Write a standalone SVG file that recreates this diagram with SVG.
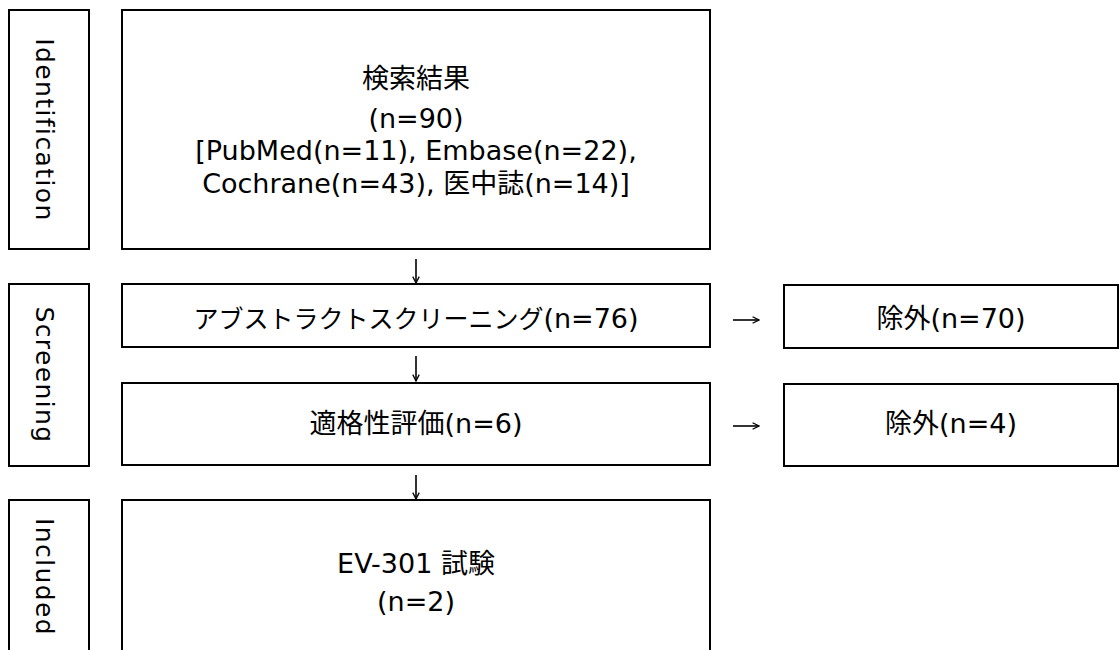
<svg xmlns="http://www.w3.org/2000/svg" width="1119" height="650" viewBox="0 0 1119 650">
  <style>
    .box { fill: #ffffff; stroke: #000000; stroke-width: 2; }
    .t { font-family: "DejaVu Sans", "Noto Sans CJK JP", sans-serif; font-size: 27px; fill: #000000; text-anchor: middle; }
    .k { font-size: 25px; }
    .lbl { font-family: "DejaVu Sans", "Noto Sans CJK JP", sans-serif; font-size: 25px; fill: #000000; text-anchor: middle; letter-spacing: 1.4px; }
    .arr { fill: none; stroke: #000000; stroke-width: 1.6; }
  </style>
  <defs>
    <marker id="ah" viewBox="0 0 10 10" refX="9" refY="5" markerWidth="8" markerHeight="8" orient="auto" markerUnits="userSpaceOnUse">
      <path d="M1,1 L9,5 L1,9" fill="none" stroke="#000" stroke-width="1.6"/>
    </marker>
  </defs>
  <rect x="0" y="0" width="1119" height="650" fill="#ffffff"/>

  <g id="label-identification">
    <rect class="box" x="9" y="10" width="80" height="239"/>
    <text class="lbl" transform="translate(36,130) rotate(90)">Identification</text>
  </g>
  <g id="label-screening">
    <rect class="box" x="9" y="284" width="80" height="182"/>
    <text class="lbl" transform="translate(36,375) rotate(90)">Screening</text>
  </g>
  <g id="label-included">
    <rect class="box" x="9" y="500" width="80" height="160"/>
    <text class="lbl" transform="translate(36,577) rotate(90)">Included</text>
  </g>

  <g id="node-search">
    <rect class="box" x="122" y="10" width="588" height="239"/>
    <text class="t" x="416" y="88">検索結果</text>
    <text class="t" x="416" y="128">(n=90)</text>
    <text class="t" x="416" y="160">[PubMed(n=11), Embase(n=22),</text>
    <text class="t" x="416" y="193">Cochrane(n=43), 医中誌(n=14)]</text>
  </g>
  <g id="node-abstract">
    <rect class="box" x="122" y="284" width="588" height="63"/>
    <text class="t" x="416" y="328"><tspan class="k">アブストラクトスクリーニング</tspan>(n=76)</text>
  </g>
  <g id="node-eligibility">
    <rect class="box" x="122" y="383" width="588" height="82"/>
    <text class="t" x="416" y="433">適格性評価(n=6)</text>
  </g>
  <g id="node-included">
    <rect class="box" x="122" y="500" width="588" height="160"/>
    <text class="t" x="416" y="573">EV-301 試験</text>
    <text class="t" x="416" y="611">(n=2)</text>
  </g>
  <g id="node-excl1">
    <rect class="box" x="784" y="285" width="334" height="63"/>
    <text class="t" x="951" y="328">除外(n=70)</text>
  </g>
  <g id="node-excl2">
    <rect class="box" x="784" y="384" width="334" height="82"/>
    <text class="t" x="951" y="433">除外(n=4)</text>
  </g>

  <g id="connectors">
    <line class="arr" x1="416" y1="259" x2="416" y2="283" marker-end="url(#ah)"/>
    <line class="arr" x1="416" y1="356" x2="416" y2="381" marker-end="url(#ah)"/>
    <line class="arr" x1="416" y1="475" x2="416" y2="499" marker-end="url(#ah)"/>
    <line class="arr" x1="733" y1="320" x2="759" y2="320" marker-end="url(#ah)"/>
    <line class="arr" x1="733" y1="426" x2="759" y2="426" marker-end="url(#ah)"/>
  </g>
</svg>
